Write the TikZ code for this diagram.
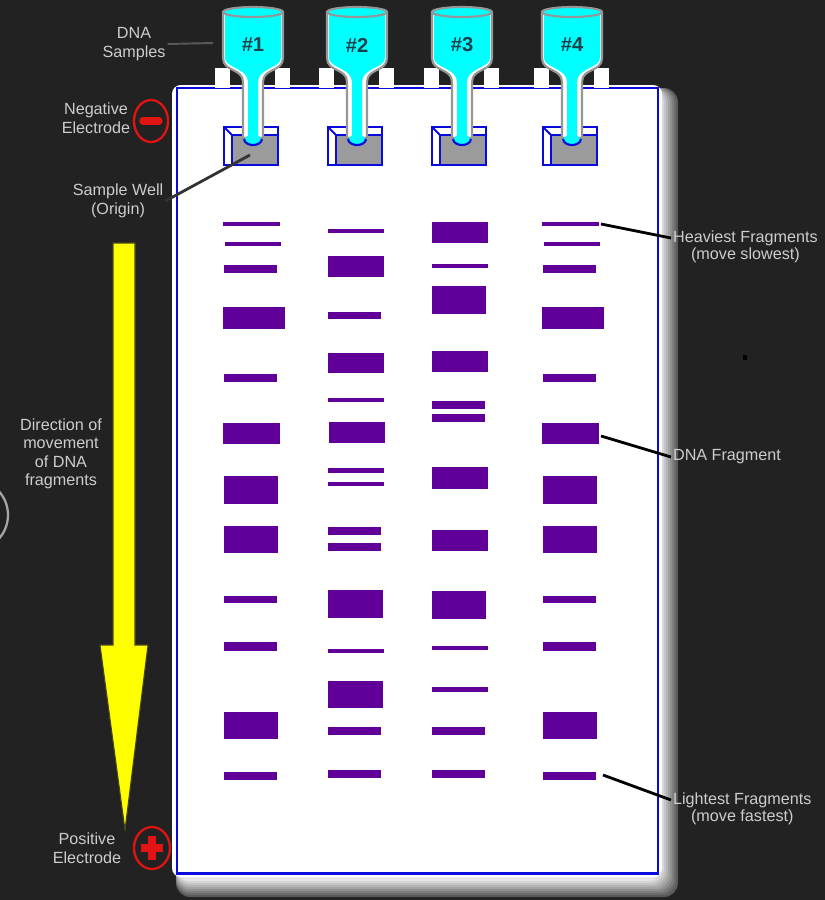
\documentclass[tikz,border=0pt]{standalone}
\usepackage{fontspec}
\setmainfont{Liberation Sans}
\usetikzlibrary{positioning}

\definecolor{bgdark}{RGB}{34,34,34}
\definecolor{gelblue}{RGB}{10,10,220}
\definecolor{bandpurple}{RGB}{96,0,152}
\definecolor{samplecyan}{RGB}{0,255,255}
\definecolor{labelgray}{RGB}{205,205,205}
\definecolor{tubegray}{RGB}{150,150,150}
\definecolor{wellgray}{RGB}{155,155,155}
\definecolor{tagteal}{RGB}{25,65,75}
\definecolor{arrowyellow}{RGB}{255,255,0}
\definecolor{arrowedge}{RGB}{70,70,30}
\definecolor{electred}{RGB}{225,20,20}

\begin{document}
\begin{tikzpicture}[x=0.02cm,y=-0.02cm,
  lbl/.style={text=labelgray,font=\fontsize{9.2}{10.5}\selectfont,align=center,inner sep=1pt},
  band/.style={fill=bandpurple},
  pointer/.style={black,line width=1.6pt},
  electrode/.style={electred,line width=1.3pt},
  tubeline/.style={tubegray,line width=1.2pt}]

  % 背景
  \fill[bgdark] (0,0) rectangle (825,900);
  \useasboundingbox (0,0) rectangle (825,900);
  \draw[gray!70,line width=1.3pt] (-27.6,515) circle [radius=35.6];

  % 电泳方向箭头
  \draw[fill=arrowyellow,draw=arrowedge,line width=0.6pt]
    (113,243) -- (135,243) -- (135,645) -- (148,645) -- (125,830)
    -- (100,645) -- (113,645) -- cycle;

  % 电极
  \draw[electrode] (151,121) ellipse [x radius=17, y radius=21];
  \draw[electred,line width=4.2pt,line cap=round] (143,121) -- (159,121);
  \draw[electrode] (152,848) ellipse [x radius=18, y radius=21];
  \draw[electred,line width=4pt] (141,848) -- (163,848) (152,836) -- (152,860);

  % 左侧标注
  \node[lbl] (dnasamp) at (134,44) {DNA\\Samples};
  \node[lbl] (negel) at (96,118) {Negative\\Electrode};
  \node[lbl] (origin) at (118,201) {Sample Well\\(Origin)};
  \node[lbl] (direction) at (61,454) {Direction of\\movement\\of DNA\\fragments};
  \node[lbl] (posel) at (87,848) {Positive\\Electrode};

  % 凝胶板与阴影
  \foreach \s/\g in {0/35,2/42,4/49,6/56,8/63,10/70,12/77,14/84,16/90}
    \fill[white!\g!black,rounded corners=8pt] (176,88) rectangle (678-\s,897-\s);
  \fill[white,rounded corners=5pt] (172,85) rectangle (662,877);
  \draw[gelblue,line width=1.7pt,fill=white] (177,88) rectangle (658,873);

  % 点样孔
  \foreach \c/\w in {253/251,357/355,462/459,572/570} {
    \fill[white] (\c-38,68) rectangle (\c-23,88);
    \fill[white] (\c+22,68) rectangle (\c+37,88);
    \fill[wellgray] (\w-19,135) rectangle (\w+27,165);
    \draw[gelblue,line width=1.2pt] (\w-27,127) rectangle (\w+27,165);
    \draw[gelblue,line width=1.2pt] (\w-19,165) -- (\w-19,135) -- (\w+27,135);
    \draw[gelblue,line width=1.2pt] (\w-27,127) -- (\w-19,135);
  }

  % 第1、4泳道
  \foreach \d in {0,319} {
    \foreach \a/\b/\t/\u in {223/280/222/226,225/281/242/246,224/277/265/273,
        223/285/307/329,224/277/374/382,223/280/423/444,224/278/476/504,
        224/278/526/553,224/277/596/603,224/277/642/651,224/278/712/739,
        224/277/772/780}
      \fill[band] (\a+\d,\t) rectangle (\b+\d,\u);
  }

  % 第2泳道
  \foreach \a/\b/\t/\u in {328/384/229/233,328/384/256/277,328/381/312/319,
      328/384/353/373,328/384/398/402,329/385/422/443,328/384/468/473,
      328/384/482/486,328/381/527/535,328/381/543/551,328/383/590/618,
      328/384/649/653,328/383/681/708,328/381/727/735,328/381/770/778}
    \fill[band] (\a,\t) rectangle (\b,\u);

  % 第3泳道
  \foreach \a/\b/\t/\u in {432/488/222/243,432/488/264/268,432/486/286/314,
      432/488/351/372,432/485/401/409,432/485/414/422,432/488/467/489,
      432/488/530/551,432/486/591/619,432/488/646/650,432/488/687/692,
      432/485/727/735,432/485/770/778}
    \fill[band] (\a,\t) rectangle (\b,\u);

  % 样品管
  \foreach \c/\n in {253/1,357/2,462/3,572/4} {
    \draw[tubeline,fill=white] (\c-30,12) -- (\c-30,58)
      .. controls (\c-30,72) and (\c-10,68) .. (\c-10,82) -- (\c-10,138)
      -- (\c+10,138) -- (\c+10,82)
      .. controls (\c+10,68) and (\c+30,72) .. (\c+30,58) -- (\c+30,12);
    \fill[samplecyan] (\c-28,12) -- (\c-28,58)
      .. controls (\c-28,68) and (\c-5,68) .. (\c-5,82) -- (\c-5,140)
      -- (\c+5,140) -- (\c+5,82)
      .. controls (\c+5,68) and (\c+28,68) .. (\c+28,58) -- (\c+28,12) -- cycle;
    \draw[tubeline,fill=samplecyan] (\c,12) ellipse [x radius=30, y radius=5];
    \fill[samplecyan] (\c,140) ellipse [x radius=8, y radius=6];
    \draw[gelblue,line width=1.2pt] (\c-9,139) .. controls (\c-8,147) and (\c+8,147) .. (\c+9,139);
    \node[font=\bfseries\fontsize{11.5}{12}\selectfont,text=tagteal] (tube\n) at (\c,45) {\#\n};
  }

  % 右侧标注
  \node[lbl,anchor=west] (heavy) at (671,238) {Heaviest Fragments};
  \node[lbl,below=-1pt of heavy] (heavysub) {(move slowest)};
  \node[lbl,anchor=west] (frag) at (671,457) {DNA Fragment};
  \node[lbl,anchor=west] (light) at (671,800) {Lightest Fragments};
  \node[lbl,below=-1pt of light] (lightsub) {(move fastest)};

  % 指示线
  \coordinate (sampend) at (213,43);
  \coordinate (welltip) at (250,155);
  \coordinate (heavytip) at (601,224);
  \coordinate (fragtip) at (601,436);
  \coordinate (lighttip) at (603,775);
  \draw[black!65,line width=1.1pt] (dnasamp.east) -- (sampend);
  \draw[black!80,line width=1.6pt] (welltip) -- (origin.east);
  \draw[pointer] (heavytip) -- (heavy.west);
  \draw[pointer] (fragtip) -- (frag.west);
  \draw[pointer] (lighttip) -- (light.west);

  \fill[black] (743,355) rectangle (747,360);
\end{tikzpicture}
\end{document}
